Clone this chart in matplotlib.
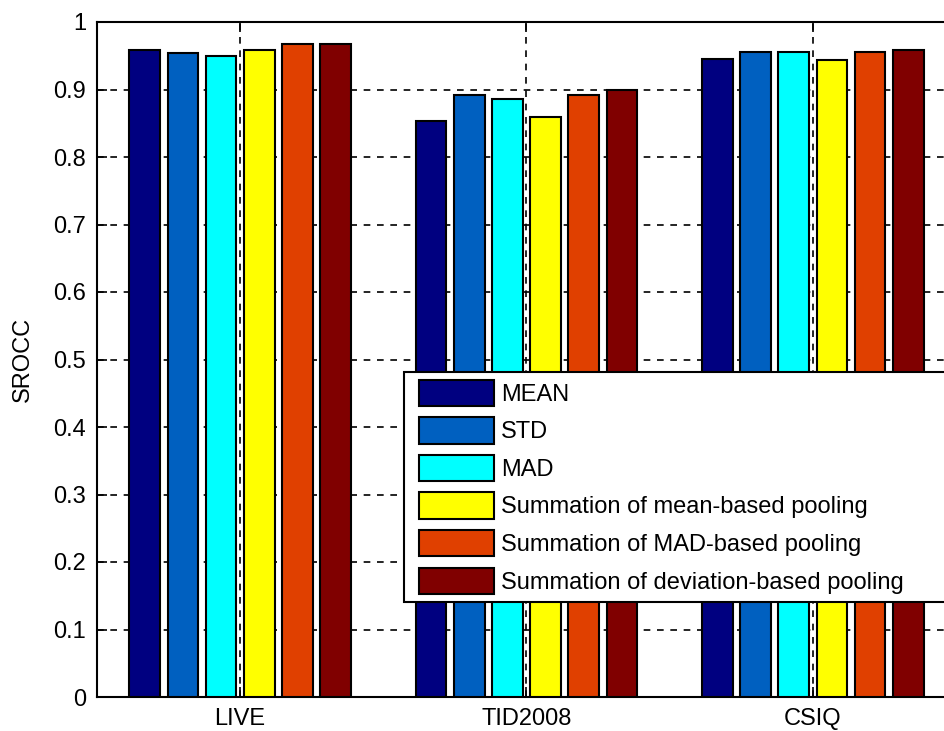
import matplotlib
matplotlib.use("Agg")
import matplotlib.pyplot as plt
from matplotlib.patches import Patch
from matplotlib.legend_handler import HandlerPatch
import numpy as np

plt.rcParams['font.family'] = ['Liberation Sans', 'DejaVu Sans']

categories = ["LIVE", "TID2008", "CSIQ"]
series_names = ["MEAN", "STD", "MAD", "Summation of mean-based pooling",
                "Summation of MAD-based pooling", "Summation of deviation-based pooling"]
mean_vals = [0.959, 0.854, 0.945]
std_vals = [0.954, 0.892, 0.956]
mad_vals = [0.950, 0.886, 0.956]
sum_mean_vals = [0.959, 0.859, 0.944]
sum_mad_vals = [0.968, 0.892, 0.956]
sum_dev_vals = [0.968, 0.900, 0.959]
yticks = [0, 0.1, 0.2, 0.3, 0.4, 0.5, 0.6, 0.7, 0.8, 0.9, 1]
ytick_labels = ["0", "0.1", "0.2", "0.3", "0.4", "0.5", "0.6", "0.7", "0.8", "0.9", "1"]

all_series = [mean_vals, std_vals, mad_vals, sum_mean_vals, sum_mad_vals, sum_dev_vals]
colors = ["#000080", "#0060C0", "#00FFFF", "#FFFF00", "#E04000", "#800000"]

fig = plt.figure(figsize=(9.45, 7.31), dpi=100)
ax = fig.add_axes([97/945, 1-697/731, (956-97)/945, (697-22)/731])

x = np.arange(1, len(categories) + 1)
n = len(all_series)
slot = 0.8 / n
width = slot * 0.8
for i, (vals, c, name) in enumerate(zip(all_series, colors, series_names)):
    ax.bar(x + (i - (n - 1) / 2) * slot, vals, width=width, color=c,
           edgecolor='black', linewidth=1.5, label=name, zorder=3)

ax.set_xlim(0.5, 3.5)
ax.set_ylim(0, 1)
ax.set_xticks(x)
ax.set_xticklabels(categories)
ax.set_yticks(yticks)
ax.set_yticklabels(ytick_labels)
ax.tick_params(direction='in', length=7, width=1.2, top=True, right=True,
               labelsize=17, colors='black', pad=8)
ax.grid(True, linestyle=(0, (4, 4)), color='black', linewidth=1.2, zorder=0)
ax.set_axisbelow(True)
for s in ax.spines.values():
    s.set_linewidth(1.5)
ax.set_ylabel("SROCC", fontsize=17, labelpad=14)

proxies = [Patch(facecolor=c, edgecolor='black', linewidth=1.5) for c in colors]
leg = fig.legend(handles=proxies, labels=series_names, loc='upper left',
                 bbox_to_anchor=(404/945, 1-603/731, 0.62, 231/731),
                 bbox_transform=fig.transFigure, mode='expand',
                 handler_map={Patch: HandlerPatch(xpad=0.3)},
                 fontsize=17, frameon=True, fancybox=False, shadow=False,
                 framealpha=1, facecolor='white',
                 handlelength=3.5, handleheight=1.35, labelspacing=0.47,
                 handletextpad=0.3, borderpad=0.32, borderaxespad=0)
leg.get_frame().set_edgecolor('black')
leg.get_frame().set_linewidth(1.5)
leg.set_zorder(10)

fig.savefig("out.png", dpi=100)
